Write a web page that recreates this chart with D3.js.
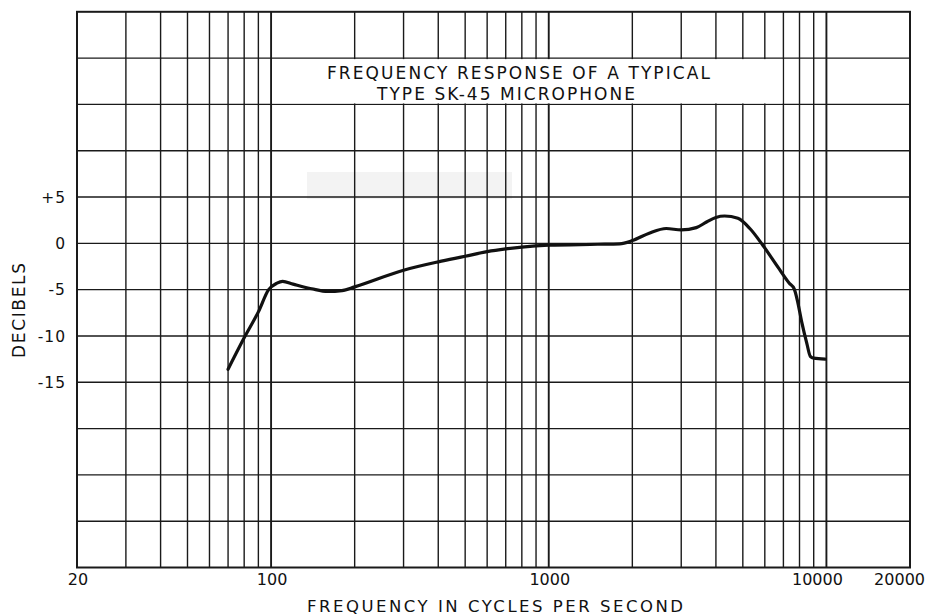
<!DOCTYPE html>
<html>
<head>
<meta charset="utf-8">
<script src="https://cdn.jsdelivr.net/npm/d3@7"></script>
<style>
  body { margin: 0; background: #fff; }
  text { font-family: "DejaVu Sans", sans-serif; fill: #111; }
</style>
</head>
<body>
<svg width="927" height="616"></svg>
<script>
const svg = d3.select("svg");

// curve: frequency (Hz) and response (dB)
const freqs = [70, 80, 90, 98, 105, 110, 120, 140, 160, 180, 200, 300, 400, 500, 600, 700, 800, 1000,
    1500, 1800, 2000, 2300, 2650, 3000, 3400, 3700, 4000, 4300, 4800, 5300, 5900, 6700, 7350, 7650,
    7850, 8150, 8500, 8750, 9000, 9900];
const decibels = [-13.6, -10.2, -7.4, -5.0, -4.3, -4.1, -4.4, -4.9, -5.2, -5.1, -4.7, -2.9, -2.0, -1.4,
    -0.9, -0.6, -0.4, -0.2, -0.1, -0.05, 0.3, 1.1, 1.6, 1.45, 1.7, 2.3, 2.8, 2.95, 2.7, 1.6, -0.2, -2.6,
    -4.3, -4.9, -6.1, -8.5, -10.8, -12.2, -12.4, -12.5];

const xTickLabels = [20, 100, 1000, 10000, 20000];
const yTickLabels = [5, 0, -5, -10, -15];
const titleLines = ["FREQUENCY RESPONSE OF A TYPICAL", "TYPE SK-45 MICROPHONE"];

const x = d3.scaleLog().domain([20, 20000]).range([77, 910]);
const y = d3.scaleLinear().domain([-35, 25]).range([567.5, 11.8]);

/* ---- scan smudge ---- */
svg.append("rect")
    .attr("x", 307).attr("y", 172)
    .attr("width", 205).attr("height", 27)
    .attr("fill", "#f3f3f3");

/* ---- grid ---- */
const grid = svg.append("g").attr("stroke", "#1a1a1a");

// vertical lines: every unit of each decade up to 10000
const vLines = [];
[10, 100, 1000].forEach(d => {
    for (let m = 1; m <= 9; m++) {
        const f = m * d;
        if (f > 20 && f < 20000) vLines.push(f);
    }
});
vLines.push(10000);

grid.selectAll(".v").data(vLines).join("line")
    .attr("x1", d => x(d)).attr("x2", d => x(d))
    .attr("y1", y(25)).attr("y2", y(-35))
    .attr("stroke-width", d => (d === 100 || d === 1000 || d === 10000) ? 1.9 : 1.4);

grid.selectAll(".h").data(d3.range(-30, 25, 5)).join("line")
    .attr("x1", x(20)).attr("x2", x(20000))
    .attr("y1", d => y(d)).attr("y2", d => y(d))
    .attr("stroke-width", 1.4);

// frame
svg.append("rect")
    .attr("x", x(20)).attr("y", y(25))
    .attr("width", x(20000) - x(20)).attr("height", y(-35) - y(25))
    .attr("fill", "none").attr("stroke", "#1a1a1a").attr("stroke-width", 2);

/* ---- title box ---- */
svg.append("rect")
    .attr("x", x(100) + 1).attr("y", y(20) + 1)
    .attr("width", x(7000) - x(100) - 2).attr("height", y(15) - y(20) - 2)
    .attr("fill", "#fff");

svg.append("text")
    .attr("x", 327).attr("y", 78.5)
    .attr("font-size", 17)
    .attr("textLength", 383).attr("lengthAdjust", "spacing")
    .text(titleLines[0]);

svg.append("text")
    .attr("x", 377).attr("y", 100)
    .attr("font-size", 17)
    .attr("textLength", 258).attr("lengthAdjust", "spacing")
    .text(titleLines[1]);

/* ---- response curve ---- */
const points = freqs.map((f, i) => [f, decibels[i]]);

const line = d3.line()
    .x(d => x(d[0]))
    .y(d => y(d[1]))
    .curve(d3.curveMonotoneX);

svg.append("path")
    .datum(points)
    .attr("d", line)
    .attr("fill", "none")
    .attr("stroke", "#111")
    .attr("stroke-width", 3.2)
    .attr("stroke-linejoin", "round")
    .attr("stroke-linecap", "round");

/* ---- y labels ---- */
svg.selectAll(".yl").data(yTickLabels).join("text")
    .attr("x", 66)
    .attr("y", d => y(d))
    .attr("dy", "0.36em")
    .attr("text-anchor", "end")
    .attr("font-size", 15.5)
    .attr("letter-spacing", 1)
    .text(d => d > 0 ? "+" + d : (d < 0 ? "-" + Math.abs(d) : "0"));

svg.append("text")
    .attr("transform", `translate(25,${(263 + 358) / 2}) rotate(-90)`)
    .attr("text-anchor", "middle")
    .attr("font-size", 17)
    .attr("textLength", 95).attr("lengthAdjust", "spacing")
    .text("DECIBELS");

/* ---- x labels ---- */
svg.selectAll(".xl").data(xTickLabels).join("text")
    .attr("x", d => d === 20000 ? 925 : x(d) + (d === 10000 ? -9 : 1))
    .attr("y", 585)
    .attr("text-anchor", d => d === 20000 ? "end" : "middle")
    .attr("font-size", 16)
    .text(d => d);

svg.append("text")
    .attr("x", 307).attr("y", 611.5)
    .attr("font-size", 16.5)
    .attr("textLength", 376).attr("lengthAdjust", "spacing")
    .text("FREQUENCY IN CYCLES PER SECOND");
</script>
</body>
</html>
